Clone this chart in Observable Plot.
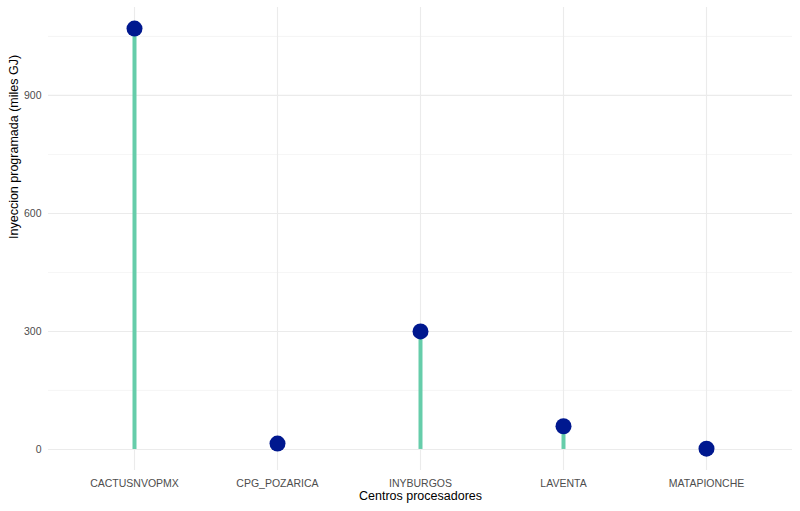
<!DOCTYPE html>
<html><head><meta charset="utf-8">
<script src="https://cdn.jsdelivr.net/npm/d3@7"></script>
<script src="https://cdn.jsdelivr.net/npm/@observablehq/plot@0.6"></script>
<style>body{margin:0;background:#fff;font-family:"Liberation Sans",Arial,sans-serif}</style>
</head><body><div id="chart"></div>
<script>
const categories = ["CACTUSNVOPMX","CPG_POZARICA","INYBURGOS","LAVENTA","MATAPIONCHE"];
const values = [1070, 15, 300, 59, 2];
const majorTicks = [0, 300, 600, 900];
const minorTicks = [150, 450, 750, 1050];
const data = categories.map((c,i)=>({c, v: values[i]}));

const chart = Plot.plot({
  width: 800, height: 511,
  marginLeft: 48, marginRight: 8, marginTop: 7, marginBottom: 41,
  style: {fontFamily: '"Liberation Sans", Arial, sans-serif', fontSize: "10.5px", color: "#4d4d4d", background: "#fff"},
  x: {type: "point", domain: categories, padding: 0.6},
  y: {domain: [-53.5, 1123.5]},
  marks: [
    Plot.ruleY(minorTicks, {stroke: "#f0f0f0", strokeWidth: 0.7, strokeOpacity: 1}),
    Plot.ruleY(majorTicks, {stroke: "#ebebeb", strokeWidth: 1.1, strokeOpacity: 1}),
    Plot.ruleX(categories, {x: d=>d, stroke: "#ebebeb", strokeWidth: 1.1, strokeOpacity: 1}),
    Plot.ruleX(data, {x: "c", y1: 0, y2: "v", stroke: "#66cdaa", strokeWidth: 4}),
    Plot.dot(data, {x: "c", y: "v", r: 8, fill: "#00188f", stroke: "none"}),
    Plot.axisX({tickSize: 0, tickPadding: 9, label: null}),
    Plot.axisY({ticks: majorTicks, tickSize: 0, tickPadding: 7, label: null}),
    Plot.text(["Centros procesadores"], {frameAnchor: "bottom", dy: 29, fontSize: 12.5, fill: "#000"}),
    Plot.text(["Inyeccion programada (miles GJ)"], {frameAnchor: "left", dx: -35, rotate: -90, fontSize: 12.5, fill: "#000"})
  ]
});
document.getElementById("chart").appendChild(chart);
</script></body></html>
